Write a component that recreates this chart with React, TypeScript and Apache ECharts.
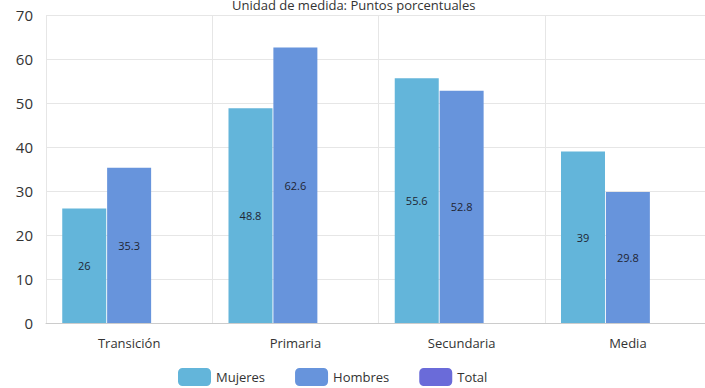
import React, { useEffect, useRef } from "react";
import * as echarts from "echarts";

const categories = ["Transición", "Primaria", "Secundaria", "Media"];
const mujeres = [26, 48.8, 55.6, 39];
const hombres = [35.3, 62.6, 52.8, 29.8];
const total: (number | null)[] = [null, null, null, null];
const yTicks = { min: 0, max: 70, interval: 10 };
const title = "Unidad de medida: Puntos porcentuales";

export default function App() {
  const ref = useRef<HTMLDivElement>(null);
  useEffect(() => {
    const chart = echarts.init(ref.current!, null, { renderer: "svg" });
    const font = "'Open Sans', sans-serif";
    const label = {
      show: true,
      position: "inside",
      color: "#1f2533",
      fontSize: 11,
      fontFamily: font,
    };
    chart.setOption({
      animation: false,
      textStyle: { fontFamily: font },
      title: {
        text: title,
        left: 227,
        top: -7,
        textStyle: { fontSize: 13, fontWeight: "normal", color: "#333", fontFamily: font },
      },
      legend: {
        bottom: -3,
        left: 173,
        itemWidth: 33,
        itemHeight: 18,
        itemGap: 30,
        textStyle: { fontSize: 13, color: "#333", fontFamily: font },
        data: ["Mujeres", "Hombres", "Total"],
      },
      grid: { left: 46, right: 0, top: 15, bottom: 65, containLabel: false },
      xAxis: {
        type: "category",
        data: categories,
        axisTick: { show: false },
        axisLine: { lineStyle: { color: "#ccc" } },
        axisLabel: { fontSize: 13, color: "#333", margin: 13, fontFamily: font },
        splitLine: { show: true, lineStyle: { color: "#e6e6e6" } },
      },
      yAxis: {
        type: "value",
        min: yTicks.min,
        max: yTicks.max,
        interval: yTicks.interval,
        axisLabel: { fontSize: 15, color: "#333", margin: 13, fontFamily: font },
        splitLine: { lineStyle: { color: "#e6e6e6" } },
      },
      series: [
        { name: "Mujeres", type: "bar", data: mujeres, itemStyle: { color: "#63b5da" }, barWidth: 44, barGap: "2%", label },
        { name: "Hombres", type: "bar", data: hombres, itemStyle: { color: "#6794dc" }, barWidth: 44, barGap: "2%", label },
        { name: "Total", type: "bar", data: total, itemStyle: { color: "#6a6bd9" }, barWidth: 44, barGap: "2%", label },
      ],
    });
    return () => chart.dispose();
  }, []);
  return (
    <div style={{ width: 705, height: 388, position: "absolute", left: 0, top: 0, overflow: "hidden" }}>
      <div ref={ref} style={{ width: 711, height: 388 }} />
    </div>
  );
}
